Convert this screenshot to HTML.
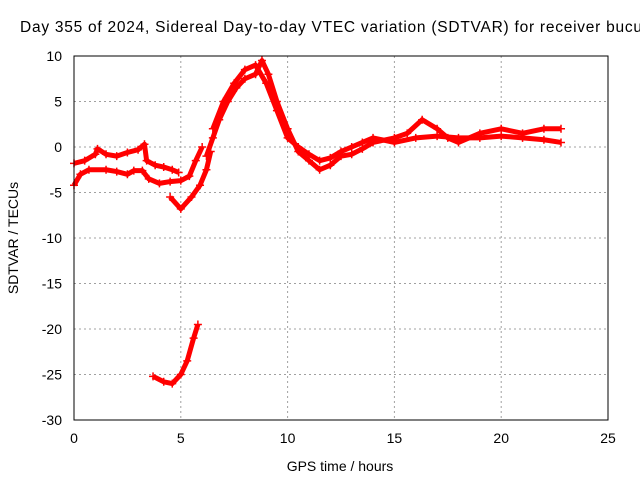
<!DOCTYPE html>
<html><head><meta charset="utf-8"><style>
body{margin:0;background:#fff}
svg text{font-family:"Liberation Sans",sans-serif;font-size:14px;fill:#000}
</style></head><body>
<svg width="640" height="480" xmlns="http://www.w3.org/2000/svg">
<rect width="640" height="480" fill="#fff"/>
<g id="grid"></g>
<g id="series"></g>
<rect x="74" y="56" width="534" height="364" fill="none" stroke="#000"/>
<g id="ticks"></g>
<text x="20" y="32" style="font-size:15.5px" textLength="622" lengthAdjust="spacing">Day 355 of 2024, Sidereal Day-to-day VTEC variation (SDTVAR) for receiver bucu</text>
<text x="340" y="471" text-anchor="middle">GPS time / hours</text>
<text transform="translate(18,238) rotate(-90)" text-anchor="middle">SDTVAR / TECUs</text>
</svg>
<script>
const xTicks=[0,5,10,15,20,25];
const yTicks=[10,5,0,-5,-10,-15,-20,-25,-30];
const track1=[[0,-1.8],[0.5,-1.5],[1,-0.8],[1.1,-0.2],[1.5,-0.8],[2,-1],[2.5,-0.6],[3,-0.3],[3.3,0.3],[3.4,-1.5],[3.8,-2],[4.2,-2.2],[4.6,-2.5],[4.9,-2.8]];
const track2=[[0,-4.2],[0.3,-3],[0.7,-2.5],[1.5,-2.5],[2,-2.7],[2.5,-3],[2.8,-2.6],[3.2,-2.6],[3.5,-3.5],[4,-4],[4.5,-3.8],[5,-3.7],[5.4,-3.2],[5.7,-1.5],[6,0]];
const track3=[[4.5,-5.5],[5,-6.8],[5.5,-5.5],[5.9,-4.2],[6.2,-2.5],[6.4,-0.5]];
const track4=[[6.2,-1],[6.5,1],[6.8,3],[7.2,5],[7.6,6.5],[8,7.5],[8.5,8],[8.8,9.5],[9.1,8],[9.5,5],[10,2],[10.5,-0.5],[11,-1.5],[11.5,-2.5],[12,-2],[12.5,-1],[13,-0.8],[13.5,-0.2],[14,0.5],[15,1],[15.6,1.5],[16.3,3],[17,2],[17.5,1],[18,0.5],[19,1.5],[20,2],[21,1.5],[22,2],[22.8,2]];
const track5=[[6.5,2],[7,5],[7.5,7],[8,8.5],[8.5,9],[9,7],[9.5,4],[10,1],[10.5,0],[11,-0.8],[11.5,-1.5],[12,-1.2],[12.5,-0.5],[13,0],[13.5,0.5],[14,1],[15,0.5],[16,1],[17,1.2],[18,1],[19,1],[20,1.2],[21,1],[22,0.8],[22.8,0.5]];
const track6=[[3.7,-25.2],[4.2,-25.8],[4.6,-26],[5,-25],[5.3,-23.5],[5.6,-21],[5.8,-19.5]];
const tracks=[track1,track2,track3,track4,track5,track6];
const NS='http://www.w3.org/2000/svg';
const X=v=>74+v*(534/25), Y=v=>147-v*9.1;
const g=document.getElementById('grid'),t=document.getElementById('ticks'),s=document.getElementById('series');
function mk(tag,at,p){const e=document.createElementNS(NS,tag);for(const k in at)e.setAttribute(k,at[k]);p.appendChild(e);return e;}
xTicks.forEach(v=>{
 if(v>0&&v<25){const l=mk('line',{x1:X(v),x2:X(v),y1:56,y2:420,stroke:'#a0a0a0','stroke-dasharray':'2,3'},g);
 }
 const tx=mk('text',{x:X(v),y:443,'text-anchor':'middle'},t);tx.textContent=v;
 
});
yTicks.forEach(v=>{
 if(v<10&&v>-30){const l=mk('line',{x1:74,x2:608,y1:Y(v),y2:Y(v),stroke:'#a0a0a0','stroke-dasharray':'2,3'},g);
 }
 const tx=mk('text',{x:62,y:Y(v)+5,'text-anchor':'end'},t);tx.textContent=v;
 
});
tracks.forEach(tr=>{
 const pl=mk('polyline',{points:tr.map(p=>X(p[0])+','+Y(p[1])).join(' '),fill:'none',stroke:'#f00','stroke-width':5,'stroke-linejoin':'round'},s);
 
 tr.forEach(p=>{const m=mk('path',{d:`M${X(p[0])-4},${Y(p[1])}h8M${X(p[0])},${Y(p[1])-4}v8`,stroke:'#f00','stroke-width':1.5},s);
 });
});
</script>
</body></html>
